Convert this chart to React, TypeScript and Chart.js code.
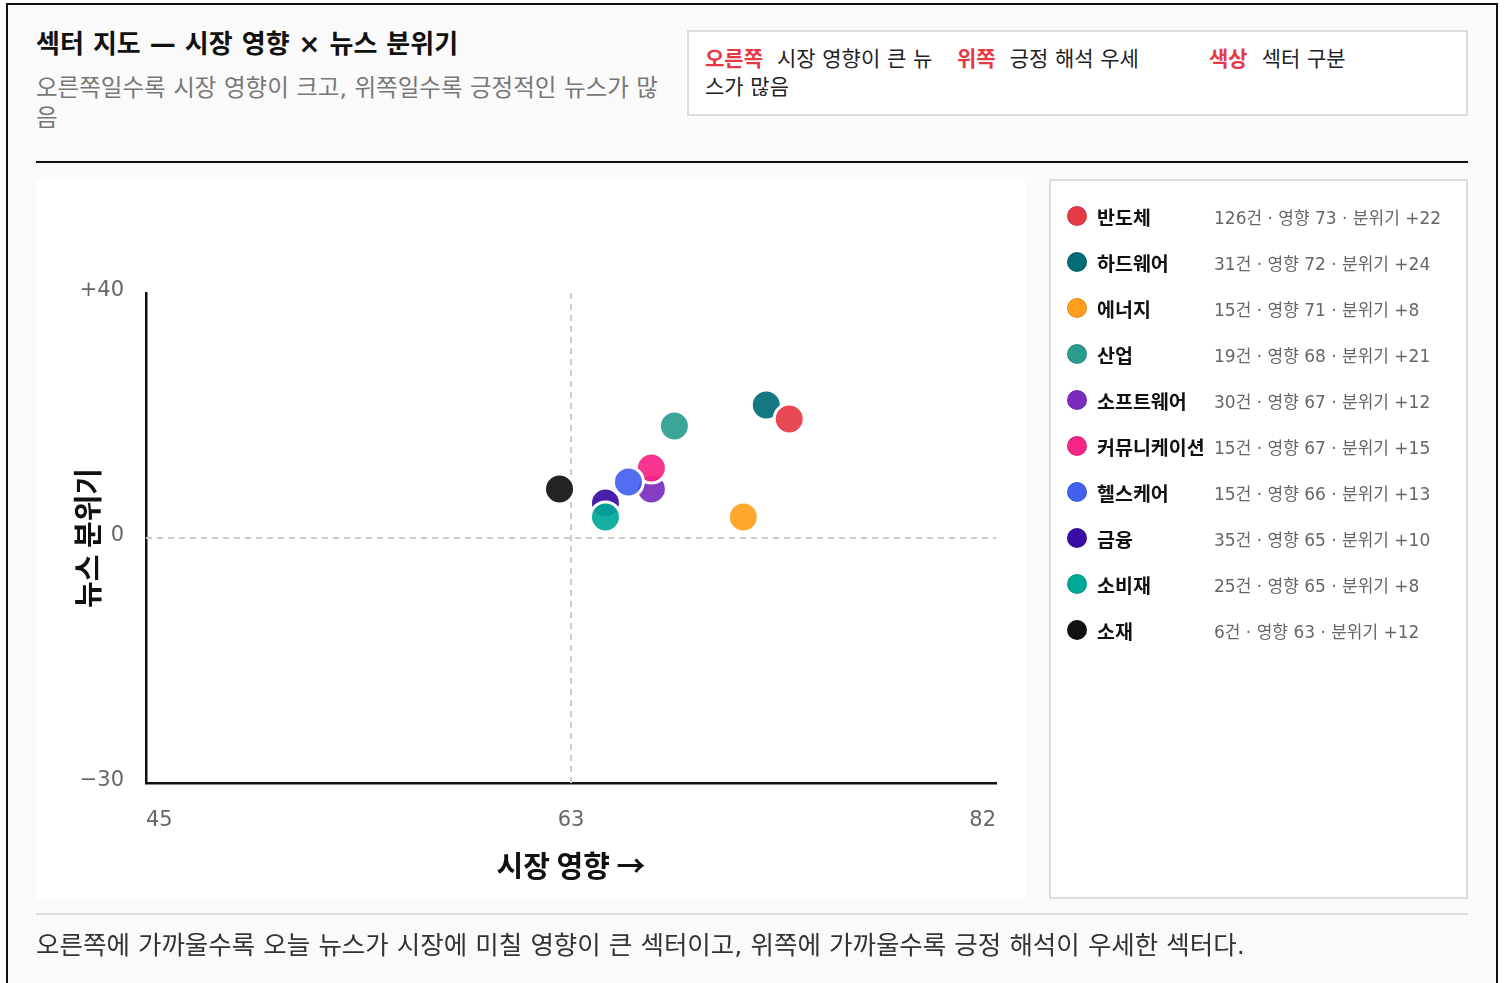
import React, { useEffect, useRef } from "react";
import { Chart, registerables } from "chart.js";

Chart.register(...registerables);

const sectors = ["반도체", "하드웨어", "에너지", "산업", "소프트웨어", "커뮤니케이션", "헬스케어", "금융", "소비재", "소재"];
const counts = [126, 31, 15, 19, 30, 15, 15, 35, 25, 6];
const impact = [73, 72, 71, 68, 67, 67, 66, 65, 65, 63];
const mood = [22, 24, 8, 21, 12, 15, 13, 10, 8, 12];
const colors = ["#e63946", "#006d77", "#ff9f1c", "#2a9d8f", "#7b2cbf", "#f72585", "#4361ee", "#3a0ca3", "#00a896", "#111111"];
// sequence in which the points are painted (later = on top)
const drawOrder = [1, 0, 2, 3, 4, 5, 6, 7, 8, 9];

const xRange = [45, 82];
const yRange = [-30, 40];
const xTickLabels = ["45", "63", "82"];
const yTickLabels = ["−30", "0", "+40"];

const FONT = '"DejaVu Sans", "Noto Sans CJK JP", sans-serif';
const TITLE_FONT = '"Noto Sans CJK JP", "DejaVu Sans", sans-serif';

function withAlpha(hex: string, a: number) {
  const n = parseInt(hex.slice(1), 16);
  return `rgba(${(n >> 16) & 255}, ${(n >> 8) & 255}, ${n & 255}, ${a})`;
}

const midLines = {
  id: "midLines",
  beforeDatasetsDraw(chart: any) {
    const { ctx, chartArea, scales } = chart;
    const xs = scales.x;
    const ys = scales.y;
    const mx = xs.getPixelForValue((xs.min + xs.max) / 2);
    const my = ys.getPixelForValue((ys.min + ys.max) / 2);
    ctx.save();
    ctx.strokeStyle = "#cccccc";
    ctx.lineWidth = 2;
    ctx.setLineDash([6, 5]);
    ctx.beginPath();
    ctx.moveTo(mx, chartArea.top);
    ctx.lineTo(mx, chartArea.bottom);
    ctx.moveTo(chartArea.left, my);
    ctx.lineTo(chartArea.right, my);
    ctx.stroke();
    ctx.restore();
  },
};

function ScatterChart() {
  const ref = useRef<HTMLCanvasElement | null>(null);
  useEffect(() => {
    if (!ref.current) return;
    const pts = drawOrder.map((i) => ({ x: impact[i], y: mood[i] }));
    const chart = new Chart(ref.current, {
      type: "scatter",
      data: {
        datasets: [
          {
            data: pts,
            backgroundColor: drawOrder.map((i) => withAlpha(colors[i], 0.92)),
            borderColor: "#ffffff",
            borderWidth: 3,
            pointRadius: 15,
            pointHoverRadius: 15,
          },
        ],
      },
      options: {
        responsive: false,
        animation: false,
        layout: { padding: { top: 114, right: 29, left: 0, bottom: 0 } },
        plugins: { legend: { display: false }, tooltip: { enabled: false } },
        scales: {
          x: {
            type: "linear",
            min: xRange[0],
            max: xRange[1],
            grid: { display: false, drawTicks: false },
            border: { display: true, color: "#111111", width: 2.5 },
            afterBuildTicks: (s: any) => {
              s.ticks = [s.min, (s.min + s.max) / 2, s.max].map((v: number) => ({ value: v }));
            },
            afterFit: (s: any) => {
              s.height = 116;
            },
            ticks: {
              autoSkip: false,
              maxRotation: 0,
              align: "inner",
              padding: 25,
              color: "#666666",
              font: { family: FONT, size: 21 },
              callback: (_v: any, i: number) => xTickLabels[i],
            },
            title: {
              display: true,
              text: "시장 영향 →",
              color: "#111111",
              font: { family: TITLE_FONT, size: 29, weight: "bold" },
              padding: { top: 0, bottom: 16 },
            },
          },
          y: {
            type: "linear",
            min: yRange[0],
            max: yRange[1],
            grid: { display: false, drawTicks: false },
            border: { display: true, color: "#111111", width: 2.5 },
            afterBuildTicks: (s: any) => {
              s.ticks = [s.min, (s.min + s.max) / 2, s.max].map((v: number) => ({ value: v }));
            },
            afterFit: (s: any) => {
              s.width = 110;
            },
            ticks: {
              autoSkip: false,
              padding: 22,
              labelOffset: -2,
              color: "#666666",
              font: { family: FONT, size: 21 },
              callback: (_v: any, i: number) => yTickLabels[i],
            },
            title: {
              display: true,
              text: "뉴스 분위기",
              color: "#111111",
              font: { family: TITLE_FONT, size: 29, weight: "bold" },
              padding: { top: 35, bottom: 0 },
            },
          },
        },
      },
      plugins: [midLines],
    } as any);
    return () => chart.destroy();
  }, []);
  return <canvas ref={ref} width={989} height={720} style={{ display: "block" }} />;
}

export default function App() {
  useEffect(() => {
    document.body.style.margin = "0";
    document.body.style.background = "#ffffff";
  }, []);

  const noteItems = [
    ["오른쪽", "시장 영향이 큰 뉴스가 많음"],
    ["위쪽", "긍정 해석 우세"],
    ["색상", "섹터 구분"],
  ];

  return (
    <div
      style={{
        margin: "3px 0 0 6px",
        width: 1492,
        minHeight: 995,
        boxSizing: "border-box",
        border: "2px solid #111",
        background: "#fafafa",
        padding: "0 28px",
        fontFamily: FONT,
        color: "#111",
      }}
    >
      <div
        style={{
          display: "flex",
          justifyContent: "space-between",
          height: 156,
          borderBottom: "2px solid #111",
        }}
      >
        <div style={{ width: 640, paddingTop: 23 }}>
          <div style={{ fontSize: 26, fontWeight: 700, lineHeight: "32px", color: "#111" }}>
            섹터 지도 — 시장 영향 × 뉴스 분위기
          </div>
          <div style={{ marginTop: 13, fontSize: 23.5, lineHeight: "30px", color: "#777" }}>
            오른쪽일수록 시장 영향이 크고, 위쪽일수록 긍정적인 뉴스가 많음
          </div>
        </div>
        <div
          style={{
            marginTop: 25,
            width: 781,
            height: 86,
            boxSizing: "border-box",
            border: "2px solid #dddddd",
            background: "#ffffff",
            padding: "13px 16px",
            display: "grid",
            gridTemplateColumns: "240px 240px 240px",
            columnGap: 12,
            fontSize: 21,
            lineHeight: "28px",
            color: "#222",
          }}
        >
          {noteItems.map(([k, v]) => (
            <div key={k}>
              <span style={{ color: "#e63946", fontWeight: 700, marginRight: 14 }}>{k}</span>
              {v}
            </div>
          ))}
        </div>
      </div>

      <div style={{ display: "flex", marginTop: 16 }}>
        <div style={{ width: 989, height: 720, background: "#ffffff" }}>
          <ScatterChart />
        </div>
        <div
          style={{
            marginLeft: 24,
            width: 419,
            height: 720,
            boxSizing: "border-box",
            border: "2px solid #dddddd",
            background: "#ffffff",
            padding: "12px 16px",
          }}
        >
          {sectors.map((s, i) => (
            <div key={s} style={{ display: "flex", alignItems: "center", height: 46 }}>
              <span
                style={{
                  width: 20,
                  height: 20,
                  borderRadius: 10,
                  background: colors[i],
                  boxSizing: "border-box",
                  border: "1px solid rgba(0,0,0,0.12)",
                  flex: "0 0 auto",
                }}
              />
              <span style={{ marginLeft: 10, width: 117, flex: "0 0 auto", fontSize: 19.5, fontWeight: 700, color: "#111", whiteSpace: "nowrap" }}>
                {s}
              </span>
              <span style={{ fontSize: 17, color: "#666", whiteSpace: "nowrap" }}>
                {counts[i]}건 · 영향 {impact[i]} · 분위기 +{mood[i]}
              </span>
            </div>
          ))}
        </div>
      </div>

      <div
        style={{
          marginTop: 14,
          borderTop: "2px solid #dddddd",
          paddingTop: 15,
          fontSize: 25.5,
          lineHeight: "30px",
          color: "#333",
        }}
      >
        오른쪽에 가까울수록 오늘 뉴스가 시장에 미칠 영향이 큰 섹터이고, 위쪽에 가까울수록 긍정 해석이 우세한 섹터다.
      </div>
    </div>
  );
}
